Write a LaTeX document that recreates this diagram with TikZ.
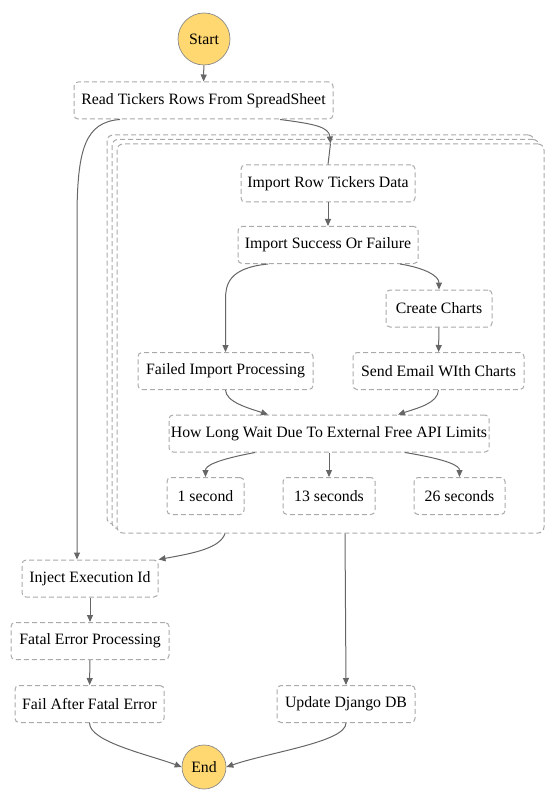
\documentclass[tikz,border=0pt]{standalone}
\usepackage{fontspec}
\setmainfont{Liberation Serif}
\usetikzlibrary{arrows.meta}
\definecolor{boxgray}{HTML}{AAAAAA}
\definecolor{linegray}{HTML}{666666}
\definecolor{termfill}{HTML}{FFD872}
\definecolor{termline}{HTML}{8A8A8A}
\tikzset{
  statebox/.style={draw=boxgray, line width=1pt, dash pattern=on 5pt off 3pt, rounded corners=4pt, fill=white,
    minimum height=37pt, inner sep=0pt, font=\fontsize{15.8}{18}\selectfont},
  mapbox/.style={draw=boxgray, line width=1pt, dash pattern=on 5pt off 3pt, rounded corners=6pt, fill=white,
    minimum width=427pt, minimum height=389pt, inner sep=0pt},
  term/.style={circle, draw=termline, line width=0.7pt, fill=termfill, inner sep=0pt, font=\fontsize{15.8}{18}\selectfont},
  conn/.style={draw=linegray, line width=1pt, -{Triangle[length=7pt,width=6pt]}},
  plain/.style={draw=linegray, line width=1pt}
}
\begin{document}
\begin{tikzpicture}[x=1pt,y=-1pt]
\useasboundingbox (0,0) rectangle (557,802);
% terminals
\node[term, minimum size=52pt] (start) at (204,39) {Start};
\node[term, minimum size=44pt] (end) at (204,767) {End};
% stacked map boxes
\node[mapbox] (map3) at (320.5,329.5) {};
\node[mapbox] (map2) at (325.5,334) {};
\node[mapbox] (map) at (330.5,338.5) {};
% states
\node[statebox, minimum width=259pt] (read) at (203.5,100.5) {Read Tickers Rows From SpreadSheet};
\node[statebox, minimum width=174pt] (importrow) at (328,183.5) {Import Row Tickers Data};
\node[statebox, minimum width=180pt] (success) at (328,245) {Import Success Or Failure};
\node[statebox, minimum width=106pt] (charts) at (439,308.5) {Create Charts};
\node[statebox, minimum width=175pt] (failed) at (225.5,371) {Failed Import Processing};
\node[statebox, minimum width=171pt] (email) at (438.5,371) {Send Email WIth Charts};
\node[statebox, minimum width=320pt] (wait) at (329,433.5) {How Long Wait Due To External Free API Limits};
\node[statebox, minimum width=77pt] (one) at (205.5,496) {1 second};
\node[statebox, minimum width=92pt] (thirteen) at (329,496) {13 seconds};
\node[statebox, minimum width=91pt] (twentysix) at (459.5,496) {26 seconds};
\node[statebox, minimum width=136pt] (inject) at (90,578.5) {Inject Execution Id};
\node[statebox, minimum width=158pt] (fatal) at (90,641) {Fatal Error Processing};
\node[statebox, minimum width=149pt] (failafter) at (89.5,704) {Fail After Fatal Error};
\node[statebox, minimum width=138pt] (django) at (346,704) {Update Django DB};
% connectors
\draw[conn] (start) -- (read);
\draw[conn] ([xshift=76.5pt]read.south) .. controls (315,124) and (329,127) .. (map.north);
\draw[plain] (map.north) -- (importrow.north);
\draw[conn] ([xshift=-83.5pt]read.south) .. controls (85,122) and (78,150) .. (77,210) -- ([xshift=-13pt]inject.north);
\draw[conn] ([xshift=-105.5pt]map.south) .. controls (220,548) and (195,553) .. (inject.north east);
\draw[conn] ([xshift=14.5pt]map.south) -- (django.north);
\draw[conn] (importrow) -- (success);
\draw[conn] ([xshift=-60pt]success.south) .. controls (228,268) and (225.5,285) .. (225.5,300) -- (failed.north);
\draw[conn] ([xshift=72pt]success.south) .. controls (425,268) and (439,276) .. (charts.north);
\draw[conn] (charts) -- (email);
\draw[conn] (failed.south) .. controls (226,402) and (248,408) .. ([xshift=-61pt]wait.north);
\draw[conn] (email.south) .. controls (438,403) and (418,408) .. ([xshift=69pt]wait.north);
\draw[conn] ([xshift=-74pt]wait.south) .. controls (215,460) and (205.5,466) .. (one.north);
\draw[conn] (wait) -- (thirteen);
\draw[conn] ([xshift=76pt]wait.south) .. controls (450,460) and (459.5,466) .. (twentysix.north);
\draw[conn] (inject) -- (fatal);
\draw[conn] (fatal) -- (failafter);
\draw[conn] (failafter.south) .. controls (89.5,742) and (150,755) .. (end.west);
\draw[conn] (django.south) .. controls (346,742) and (270,752) .. (end.east);
\end{tikzpicture}
\end{document}
